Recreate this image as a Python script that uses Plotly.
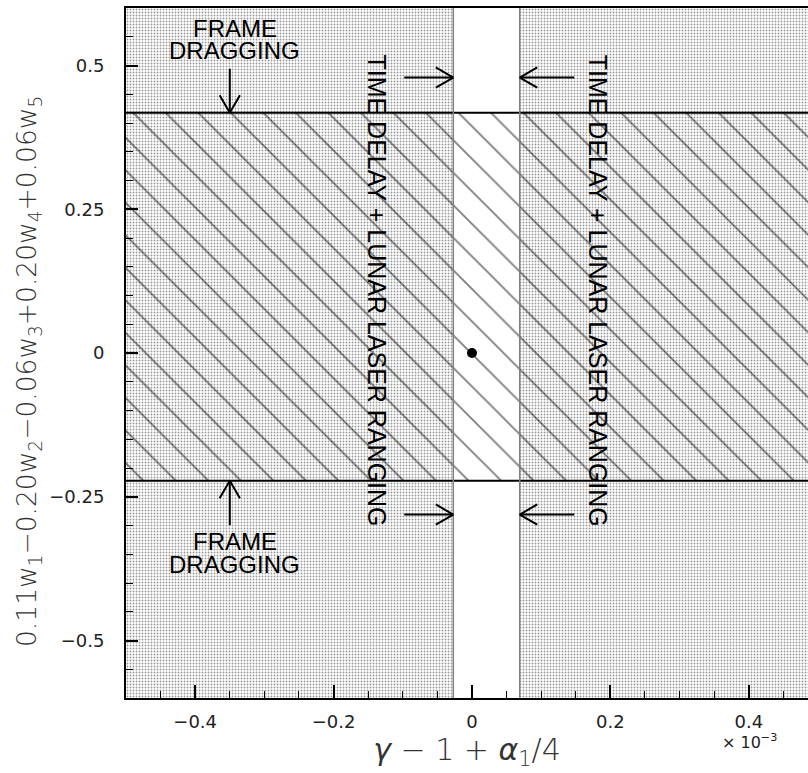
import plotly.graph_objects as go

# ---------------- data (x in units of 1e-3) ----------------
x_limits = [-0.5, 0.4856]
y_limits = [-0.6, 0.6]
time_delay_bounds = [-0.027, 0.069]       # allowed strip in x (time delay + LLR)
frame_dragging_bounds = [-0.222, 0.418]   # allowed band in y (frame dragging)
best_fit_x = [0.0]
best_fit_y = [0.0]
x_tick_vals = [-0.4, -0.2, 0, 0.2, 0.4]
x_tick_text = ["−0.4", "−0.2", "0", "0.2", "0.4"]
y_tick_vals = [-0.5, -0.25, 0, 0.25, 0.5]
y_tick_text = ["−0.5", "−0.25", "0", "0.25", "0.5"]

xlo, xhi = x_limits[0] - 0.05, x_limits[1] + 0.05
ylo, yhi = y_limits[0] - 0.05, y_limits[1] + 0.05

CLEAR = "rgba(0,0,0,0)"
stipple = dict(shape=".", size=3, solidity=0.3, fgcolor="#333333", bgcolor=CLEAR)
hatch = dict(shape="\\", size=23, solidity=0.08, fgcolor="#000000", bgcolor=CLEAR)

fig = go.Figure()

# stippled (excluded by time delay) regions
for xa, xb in [(xlo, time_delay_bounds[0]), (time_delay_bounds[1], xhi)]:
    fig.add_trace(go.Scatter(
        x=[xa, xb, xb, xa, xa], y=[ylo, ylo, yhi, yhi, ylo],
        mode="none", fill="toself", fillcolor=CLEAR, fillpattern=stipple,
        hoverinfo="skip", showlegend=False))

# hatched (allowed by frame dragging) band
fa, fb = frame_dragging_bounds
fig.add_trace(go.Scatter(
    x=[xlo, xhi, xhi, xlo, xlo], y=[fa, fa, fb, fb, fa],
    mode="none", fill="toself", fillcolor=CLEAR, fillpattern=hatch,
    hoverinfo="skip", showlegend=False))

# boundary lines
for yb in frame_dragging_bounds:
    fig.add_trace(go.Scatter(x=[xlo, xhi], y=[yb, yb], mode="lines",
                             line=dict(color="black", width=2),
                             hoverinfo="skip", showlegend=False))
for xb in time_delay_bounds:
    fig.add_trace(go.Scatter(x=[xb, xb], y=[ylo, yhi], mode="lines",
                             line=dict(color="#808080", width=1.5),
                             hoverinfo="skip", showlegend=False))

# best-fit point
fig.add_trace(go.Scatter(x=best_fit_x, y=best_fit_y, mode="markers",
                         marker=dict(color="black", size=10),
                         showlegend=False))

label_font = dict(family="Liberation Sans, Arial", size=24, color="black")
rot_font = dict(family="Liberation Sans, Arial", size=25, color="black")
annotations = []

def txt(x, y, s, angle=0, font=label_font):
    annotations.append(dict(x=x, y=y, xref="x", yref="y", text=s, showarrow=False,
                            textangle=angle, font=font,
                            xanchor="center", yanchor="middle"))

def seg(x, y, ax, ay, axref, ayref):
    annotations.append(dict(x=x, y=y, ax=ax, ay=ay, xref="x", yref="y",
                            axref=axref, ayref=ayref, text="", showarrow=True,
                            arrowhead=0, arrowwidth=2, arrowcolor="black",
                            standoff=0, startstandoff=0))

def arrow(x, y, ax, ay, direction):
    # shaft from tail (ax, ay) to tip (x, y), plus an open V head (pixel offsets)
    seg(x, y, ax, ay, "x", "y")
    L, W = 19, 11
    if direction == "down":
        arms = [(-W, -L), (W, -L)]
    elif direction == "up":
        arms = [(-W, L), (W, L)]
    elif direction == "right":
        arms = [(-L, -W), (-L, W)]
    else:
        arms = [(L, -W), (L, W)]
    for dx, dy in arms:
        seg(x, y, dx, dy, "pixel", "pixel")

# frame dragging labels
txt(-0.343, 0.564, "FRAME")
txt(-0.343, 0.526, "DRAGGING")
txt(-0.343, -0.327, "FRAME")
txt(-0.343, -0.367, "DRAGGING")
arrow(-0.350, frame_dragging_bounds[1], -0.350, 0.497, "down")
arrow(-0.350, frame_dragging_bounds[0], -0.350, -0.302, "up")

# time delay labels
txt(-0.137, 0.1085, "TIME DELAY + LUNAR LASER RANGING", 90, rot_font)
txt(0.182, 0.1085, "TIME DELAY + LUNAR LASER RANGING", 90, rot_font)
for yy in (0.479, -0.281):
    arrow(time_delay_bounds[0], yy, -0.100, yy, "right")
    arrow(time_delay_bounds[1], yy, 0.150, yy, "left")

# exponent
annotations.append(dict(x=(720 - 126) / 682, y=(698 - 741) / 690, xref="paper", yref="paper",
                        text="× 10<sup>−3</sup>", showarrow=False, xanchor="left",
                        yanchor="middle", font=dict(family="DejaVu Sans", size=16, color="#222")))

tick_font = dict(family="DejaVu Sans", size=18, color="#222")
title_font = dict(family="DejaVu Sans", size=26.5, color="#333", weight=200)

# y-axis title (as rotated annotation for exact placement)
annotations.append(dict(
    x=(28 - 126) / 682, y=(698 - 372) / 690, xref="paper", yref="paper",
    text="0.11w<sub>1</sub>−0.20w<sub>2</sub>−0.06w<sub>3</sub>+0.20w<sub>4</sub>+0.06w<sub>5</sub>",
    textangle=-90, showarrow=False, xanchor="center", yanchor="middle", font=title_font))

fig.update_layout(
    width=808, height=773,
    margin=dict(l=126, r=0, t=8, b=75),
    paper_bgcolor="white", plot_bgcolor="white",
    annotations=annotations,
    xaxis=dict(
        range=x_limits, showgrid=False, zeroline=False, automargin=False,
        showline=True, linecolor="black", linewidth=2, mirror=True,
        ticks="inside", ticklen=13, tickwidth=1.5, tickcolor="black",
        tickvals=x_tick_vals, ticktext=x_tick_text, tickfont=tick_font,
        ticklabelstandoff=6,
        minor=dict(dtick=0.05, tick0=0, ticks="inside", ticklen=7, tickwidth=1, tickcolor="black", showgrid=False),
        title=dict(text="<i>γ</i> − 1 + <i>α</i><sub>1</sub>/4",
                   font=dict(family="DejaVu Sans", size=30, color="#333", weight=200), standoff=4),
    ),
    yaxis=dict(
        range=y_limits, showgrid=False, zeroline=False, automargin=False,
        showline=True, linecolor="black", linewidth=2,
        ticks="inside", ticklen=12, tickwidth=1.5, tickcolor="black",
        tickvals=y_tick_vals, ticktext=y_tick_text, tickfont=tick_font,
        ticklabelstandoff=16,
        minor=dict(dtick=0.05, tick0=0, ticks="inside", ticklen=7, tickwidth=1, tickcolor="black", showgrid=False),
    ),
)

fig.write_html("out.html", config={"displayModeBar": False},
               post_script="document.body.style.margin='0';document.body.style.overflow='hidden';")
